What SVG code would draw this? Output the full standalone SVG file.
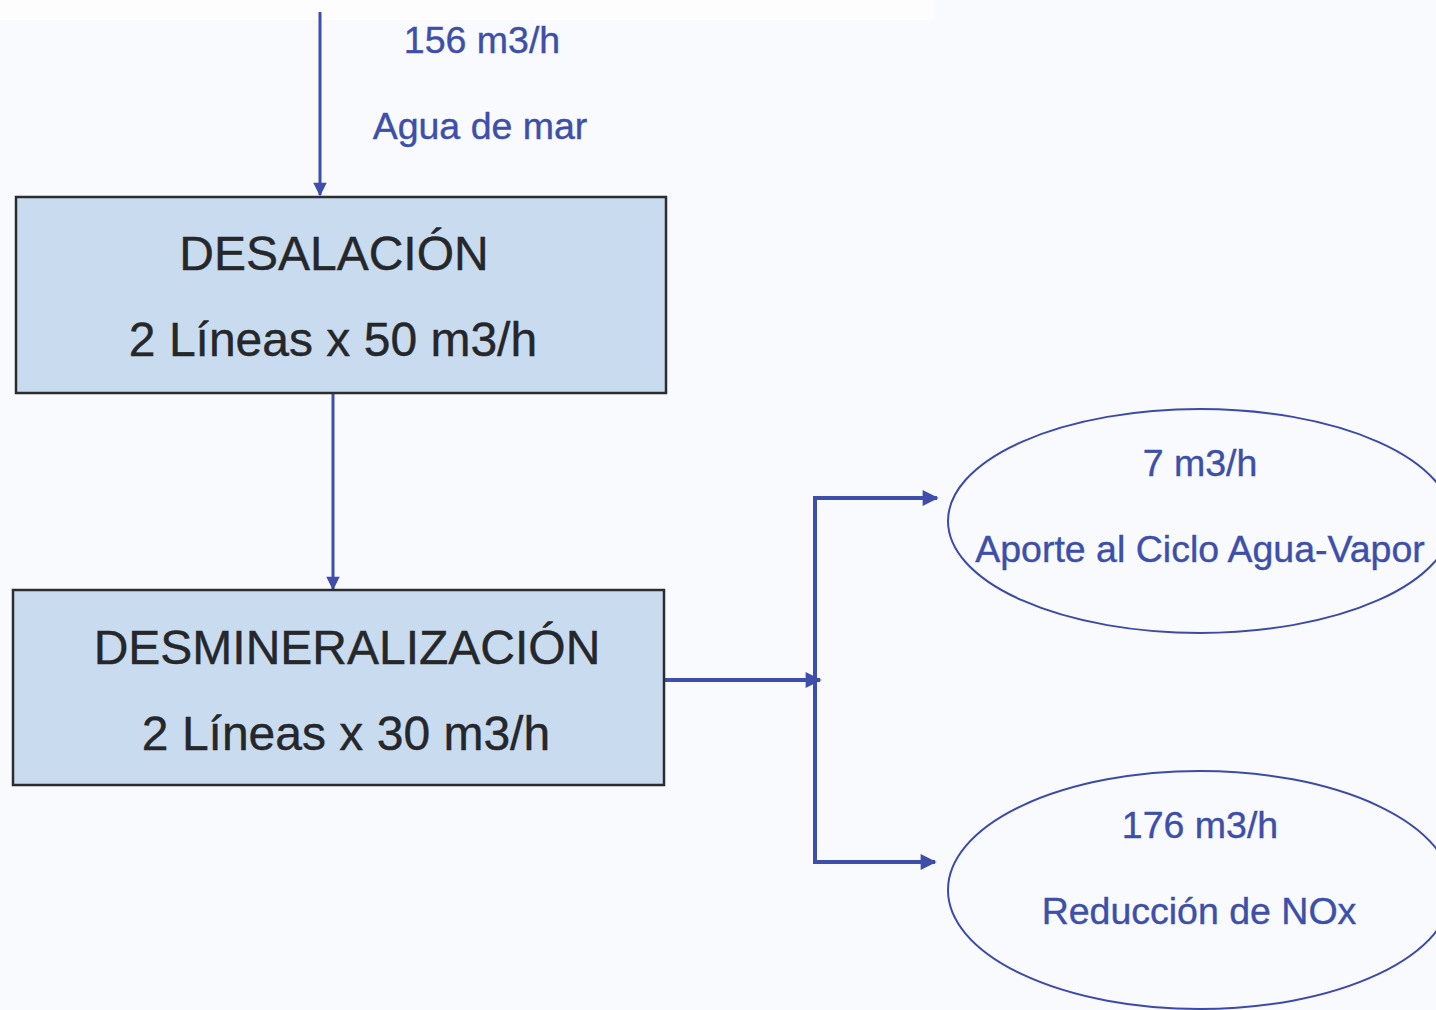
<svg xmlns="http://www.w3.org/2000/svg" width="1436" height="1010" viewBox="0 0 1436 1010">
<style>
.box{fill:#c9dcef;stroke:#2b2d30;stroke-width:2.5}
.ell{fill:none;stroke:#3d4aa6;stroke-width:2}
.btxt{font-family:"Liberation Sans",Arial,sans-serif;font-size:48px;fill:#25272b;stroke:#25272b;stroke-width:0.4;text-anchor:middle}
.ltxt{font-family:"Liberation Sans",Arial,sans-serif;font-size:37.5px;fill:#3d4fa8;stroke:#3d4fa8;stroke-width:0.4;text-anchor:middle}
.con{stroke:#3f4dab;fill:none}
</style>
<defs>
<marker id="ah" viewBox="0 0 10 10" refX="9" refY="5" markerWidth="4.5" markerHeight="4" markerUnits="strokeWidth" orient="auto">
<path d="M0,0 L10,5 L0,10 z" fill="#3f4dab"/>
</marker>
<marker id="ahs" viewBox="0 0 10 10" refX="9" refY="5" markerWidth="5" markerHeight="4.5" markerUnits="strokeWidth" orient="auto">
<path d="M0,0 L10,5 L0,10 z" fill="#3f4dab"/>
</marker>
</defs>
<rect width="1436" height="1010" fill="#f8fafd"/>
<rect width="935" height="20" fill="#fdfdfd"/>
<g id="connectors">
<line class="con" x1="320" y1="12" x2="320" y2="195" stroke-width="3" marker-end="url(#ahs)"/>
<line class="con" x1="333" y1="394" x2="333" y2="589" stroke-width="3" marker-end="url(#ahs)"/>
<line class="con" x1="665" y1="680" x2="820" y2="680" stroke-width="4" marker-end="url(#ah)"/>
<polyline class="con" points="815,497 815,864" stroke-width="4"/>
<line class="con" x1="813" y1="498" x2="937" y2="498" stroke-width="4" marker-end="url(#ah)"/>
<line class="con" x1="813" y1="862" x2="935" y2="862" stroke-width="4" marker-end="url(#ah)"/>
</g>
<g id="label-entrada">
<text class="ltxt" x="482" y="53">156 m3/h</text>
<text class="ltxt" x="480" y="139">Agua de mar</text>
</g>
<g id="desalacion">
<rect class="box" x="16" y="197" width="650" height="196"/>
<text class="btxt" x="334" y="270">DESALACIÓN</text>
<text class="btxt" x="333" y="356">2 Líneas x 50 m3/h</text>
</g>
<g id="desmineralizacion">
<rect class="box" x="13" y="590" width="651" height="195"/>
<text class="btxt" x="347" y="664">DESMINERALIZACIÓN</text>
<text class="btxt" x="346" y="750">2 Líneas x 30 m3/h</text>
</g>
<g id="aporte">
<ellipse class="ell" cx="1200" cy="521" rx="252" ry="112"/>
<text class="ltxt" x="1200" y="476">7 m3/h</text>
<text class="ltxt" x="1200" y="562">Aporte al Ciclo Agua-Vapor</text>
</g>
<g id="reduccion">
<ellipse class="ell" cx="1200" cy="890" rx="252" ry="119"/>
<text class="ltxt" x="1200" y="838">176 m3/h</text>
<text class="ltxt" x="1199" y="924">Reducción de NOx</text>
</g>
</svg>
